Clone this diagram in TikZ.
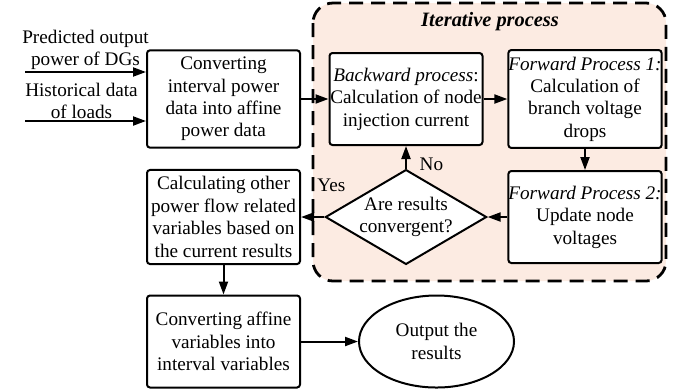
\documentclass[tikz,border=0pt]{standalone}
\usepackage{fontspec}
\setmainfont{Liberation Serif}
\usetikzlibrary{arrows.meta, shapes.geometric}
\definecolor{Peach}{HTML}{FCEBE2}

\tikzset{
    procbox/.style={draw, fill=white, line width=1pt, rounded corners=1.5pt, minimum width=76.5pt, minimum height=46pt, align=center, inner xsep=0pt},
    flow/.style={-{Triangle[length=6.5pt, width=4.5pt]}, line width=1pt},
}

\begin{document}
\begin{tikzpicture}[x=0.5pt, y=-0.5pt, font=\fontsize{9.6}{11.2}\selectfont]
    \useasboundingbox (0,0) rectangle (683,388);
    \draw[fill=Peach, line width=1.4pt, dash pattern=on 7pt off 4pt, rounded corners=10pt] (313,3) rectangle (666,281);
    \node[font=\fontsize{10.2}{11.2}\selectfont\bfseries\itshape] (itertitle) at (490,22) {Iterative process};

    \node[procbox] (convert) at (223.5,99) {Converting\\interval power\\data into affine\\power data};
    \node[procbox] (back) at (406,99) {\textit{Backward process}:\\Calculation of node\\injection current};
    \node[procbox] (fwdone) at (585,99) {\textit{Forward Process 1:}\\Calculation of\\branch voltage\\drops};
    \node[procbox] (fwdtwo) at (585,217) {\textit{Forward Process 2:}\\Update node\\voltages};
    \node[draw, diamond, fill=white, line width=1pt, aspect=1.7, inner sep=0pt, minimum width=77pt, minimum height=45pt, align=center] (check) at (406,217) {Are results\\convergent?};
    \node[procbox] (calc) at (223.5,217) {Calculating other\\power flow related\\variables based on\\the current results};
    \node[procbox] (affine) at (223.5,341.5) {Converting affine\\variables into\\interval variables};
    \node[draw, ellipse, line width=1pt, inner sep=0pt, minimum width=77.5pt, minimum height=46pt, align=center] (output) at (436.5,341.5) {Output the\\results};

    \coordinate (dgin) at (25,72);
    \coordinate (loadin) at (25,121);
    \draw[flow] (dgin) -- node[above, align=center, inner sep=0.5pt] {Predicted output\\power of DGs} (dgin -| convert.west);
    \draw[flow] (loadin) -- node[above, align=center, inner sep=0.5pt, xshift=-2pt] {Historical data\\of loads} (loadin -| convert.west);

    \draw[flow] (convert) -- (back);
    \draw[flow] (back) -- (fwdone);
    \draw[flow] (fwdone) -- (fwdtwo);
    \draw[flow] (fwdtwo) -- (check);
    \draw[flow] (check.north) -- node[pos=0.2, right=3pt] {No} (back.south);
    \draw[flow] (check.west) -- node[pos=0, yshift=16pt, xshift=3.5pt] {Yes} (calc.east);
    \draw[flow] (calc) -- (affine);
    \draw[flow] (affine) -- (output);
\end{tikzpicture}
\end{document}
